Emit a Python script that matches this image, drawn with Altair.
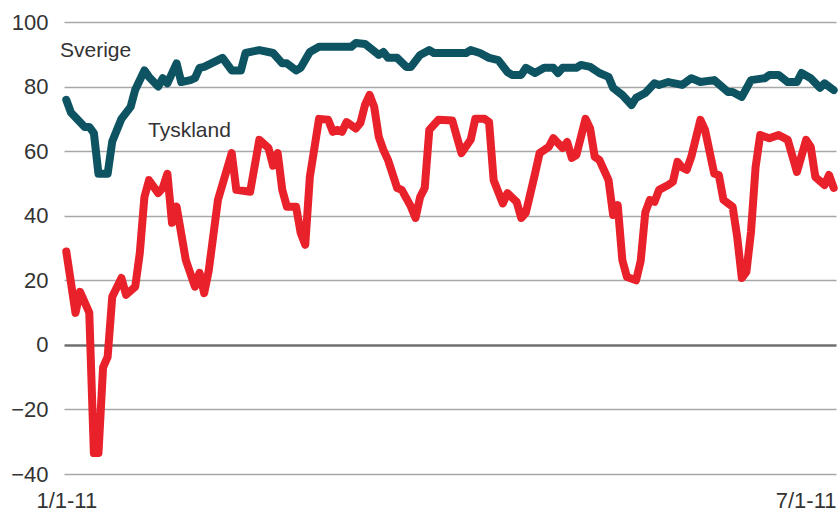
import altair as alt
import pandas as pd

# Hour index from 1/1-11 00:00 (hourly data, one week)
se_hours = [0, 1, 4, 5, 6, 7, 9, 10, 12, 14, 15, 17, 18, 20, 21, 22, 24, 25, 27, 28,
            29, 30, 33, 34, 36, 38, 39, 42, 44, 45, 47, 48, 50, 51, 53, 55, 62, 63, 65, 68,
            69, 70, 72, 74, 75, 77, 79, 80, 87, 88, 90, 92, 94, 96, 97, 99, 100, 102, 104, 106,
            107, 108, 111, 112, 114, 116, 118, 119, 121, 123, 124, 126, 128, 129, 131, 134, 136, 138, 141, 144,
            145, 147, 149, 152, 153, 155, 157, 159, 160, 162, 164, 165, 167]
se_vals = [75.9, 72, 67.5, 67.5, 65.6, 53, 53, 63, 70, 73.7, 79, 85, 83, 80, 82.6, 81, 87.2, 81.4, 82, 82.6,
           85.8, 86.1, 88.2, 88.9, 85, 85, 90.4, 91.3, 90.7, 90.4, 87.2, 87.2, 85, 85.8, 90.7, 92.3, 92.3, 93.5, 93.2, 89.8,
           90.7, 88.9, 88.9, 86.1, 86.1, 89.8, 91.3, 90.4, 90.4, 91.3, 90.4, 88.9, 88.2, 84.5, 83.6, 83.6, 85.8, 84.2, 85.8, 85.8,
           84.2, 85.8, 85.8, 86.7, 86.1, 84.2, 83, 79.6, 77.4, 74.3, 76.5, 78, 81, 80.5, 81.4, 80.5, 82.6, 81.4, 82, 78.3,
           78.3, 76.8, 82, 82.6, 83.6, 83.6, 81.4, 81.4, 84.2, 82.6, 79.6, 81, 78.9]

de_hours = [0, 2, 3, 5, 6, 7, 8, 9, 10, 12, 13, 15, 16, 17, 18, 20, 21, 22, 23, 24,
            26, 28, 29, 30, 31, 33, 36, 37, 40, 42, 44, 45, 46, 47, 48, 50, 51, 52, 53, 55,
            57, 58, 59, 60, 61, 63, 64, 65, 66, 67, 68, 69, 70, 72, 73, 75, 76, 77, 78, 79,
            81, 84, 85, 86, 88, 89, 91, 92, 93, 95, 96, 98, 99, 100, 102, 103, 105, 106, 108, 109,
            110, 111, 113, 114, 115, 116, 118, 119, 120, 121, 122, 124, 125, 126, 127, 128, 129, 131, 132, 133,
            134, 135, 136, 138, 139, 141, 142, 143, 145, 146, 147, 148, 149, 150, 151, 153, 155, 157, 159, 161,
            162, 163, 165, 166, 167]
de_vals = [28.9, 9.9, 16.4, 10, -33.5, -33.5, -7, -3.7, 14.9, 20.7, 15.5, 18, 28.5, 45.8, 51, 47, 48.6, 53, 37.8, 42.8,
           26.3, 18, 22.3, 16, 23, 44.9, 59.4, 48, 47.4, 63.5, 61, 55.5, 59.4, 48, 42.8, 42.8, 34.7, 31, 52, 70,
           69.7, 66, 66.6, 66, 69, 67, 68.7, 74.3, 77.4, 73.7, 64.4, 60.4, 57.3, 48.6, 48, 42.8, 39.3, 45.8, 48.6, 66.6,
           69.7, 69.5, 64.4, 59.4, 63.5, 70, 70, 69, 51, 43.8, 47, 44.3, 39.3, 40.9, 53, 59.4, 61.3, 64, 61, 62.8,
           57.9, 58.8, 70, 67, 58.2, 57.3, 51, 40.2, 43.3, 26.3, 21, 20, 26, 41, 44.9, 44.3, 48, 49.5, 50.5, 56.7,
           55, 54.2, 58.2, 69.7, 66.6, 53, 52.6, 44.9, 42.8, 33.4, 20.7, 22.6, 35, 55, 65, 64, 65, 63.5, 53.6, 63.5,
           61.3, 52, 49.5, 52.6, 48.6]

series_names = ["Sverige", "Tyskland"]
series_colors = ["#0d5361", "#e8212b"]
y_ticks = [-40, -20, 0, 20, 40, 60, 80, 100]
x_tick_hours = [0, 167.5]
x_tick_labels = ["1/1-11", "7/1-11"]

df = pd.concat([
    pd.DataFrame({"hour": se_hours, "value": se_vals, "land": series_names[0]}),
    pd.DataFrame({"hour": de_hours, "value": de_vals, "land": series_names[1]}),
])

FONT = "Liberation Sans"
label_expr = f"datum.value < 1 ? '{x_tick_labels[0]}' : '{x_tick_labels[1]}'"

x_enc = alt.X("hour:Q",
              scale=alt.Scale(domain=[-0.5, 167.5], nice=False, zero=False),
              axis=alt.Axis(values=x_tick_hours, labelExpr=label_expr, title=None,
                            grid=False, domain=False, ticks=False,
                            labelFontSize=22, labelFont=FONT, labelColor="#333333",
                            labelPadding=16, labelBaseline="top",
                            labelAlign={"condition": {"test": "datum.value > 100", "value": "right"},
                                        "value": "center"}))
y_enc = alt.Y("value:Q",
              scale=alt.Scale(domain=[-40, 100], nice=False),
              axis=alt.Axis(values=y_ticks, title=None, domain=False, ticks=False,
                            labelFontSize=22, labelFont=FONT, labelColor="#333333",
                            labelPadding=16,
                            gridColor={"condition": {"test": "datum.value === 0", "value": "#6f6f6f"},
                                       "value": "#a8a8a8"},
                            gridWidth={"condition": {"test": "datum.value === 0", "value": 2.6},
                                       "value": 1.6}))

lines = alt.Chart(df).mark_line(strokeWidth=8, strokeJoin="round", strokeCap="round").encode(
    x=x_enc,
    y=y_enc,
    color=alt.Color("land:N", scale=alt.Scale(domain=series_names, range=series_colors), legend=None),
    detail="land:N",
)

def series_label(name, px, py):
    return alt.Chart(pd.DataFrame({"text": [name]})).mark_text(
        font=FONT, fontSize=21, color="#333333", align="left", baseline="alphabetic"
    ).encode(text="text:N", x=alt.value(px), y=alt.value(py))

labels_se = series_label(series_names[0], -4, 35)
labels_de = series_label(series_names[1], 84, 115)

chart = alt.layer(lines, labels_se, labels_de).properties(
    width=772, height=452,
    padding={"left": 64, "top": 22, "right": 4, "bottom": 38},
    autosize=alt.AutoSizeParams(type="none"),
).configure_view(stroke=None)

chart.save("out.html", embed_options={"renderer": "svg", "actions": False})
